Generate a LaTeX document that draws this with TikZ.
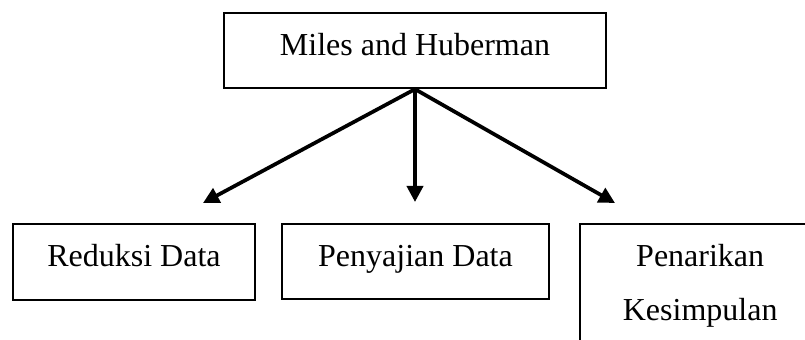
\documentclass[tikz,border=0pt]{standalone}
\usepackage{fontspec}
\setmainfont{Liberation Serif}
\usetikzlibrary{arrows.meta}

\begin{document}
\begin{tikzpicture}[x=0.375pt,y=-0.375pt,
		box/.style={draw,line width=0.9pt,rectangle,inner sep=0pt,font=\fontsize{12}{20.4}\selectfont,text height=8pt,text depth=4.5pt},
		arr/.style={-{Triangle[length=6pt,width=6pt]},line width=1.4pt}]
		\path[use as bounding box,clip] (0,0) rectangle (805,340);
		\node[box,minimum width=143.25pt,minimum height=28.1pt] (miles) at (415,50.5) {Miles and Huberman};
		\node[box,minimum width=90.75pt,minimum height=28.5pt] (reduksi) at (134,262) {Reduksi Data};
		\node[box,minimum width=100.1pt,minimum height=28.1pt] (saji) at (415.5,261.5) {Penyajian Data};
		\node[box,anchor=north west,align=center,text width=80pt,minimum width=90pt,inner xsep=4pt,inner ysep=7.75pt,text depth=] (tarik) at (579,223) {Penarikan\\Kesimpulan};
		\coordinate (endl) at (203,203);
		\coordinate (endm) at (415,202);
		\coordinate (endr) at (615,203);
		\draw[arr] (miles.south) -- (endl);
		\draw[arr] (miles.south) -- (endm);
		\draw[arr] (miles.south) -- (endr);
	\end{tikzpicture}
\end{document}
